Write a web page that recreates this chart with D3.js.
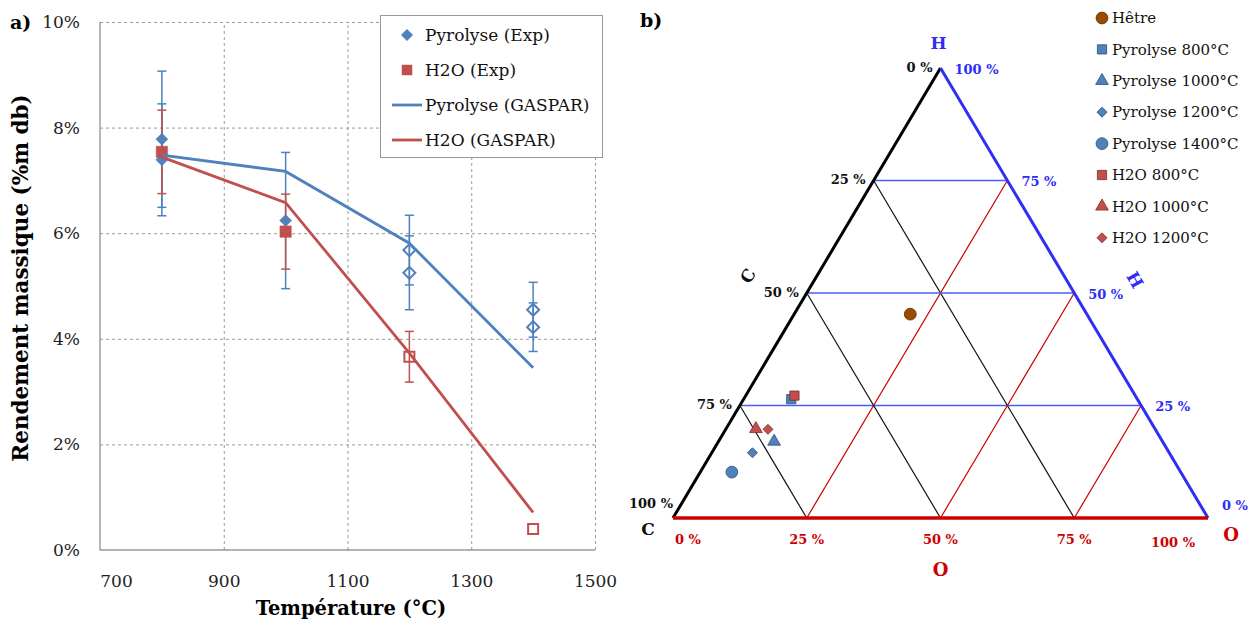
<!DOCTYPE html>
<html><head><meta charset="utf-8">
<script src="https://cdn.jsdelivr.net/npm/d3@7"></script>
<style>body{margin:0;background:#fff} text{font-family:"DejaVu Serif",serif}</style>
</head><body><svg id="c" width="1250" height="624"></svg>
<script>
// ---------- data: panel a ----------
const xTicks = [700, 900, 1100, 1300, 1500];
const yTicks = [0, 2, 4, 6, 8, 10];
const pyroExpT = [800, 800, 1000, 1200, 1200, 1400, 1400];
const pyroExpV = [7.78, 7.39, 6.24, 5.68, 5.25, 4.55, 4.22];
const pyroExpErr = [1.29, 1.06, 1.29, 0.66, 0.70, 0.52, 0.46];
const pyroExpOpen = [false, false, false, true, true, true, true];
const h2oExpT = [800, 1000, 1200, 1400];
const h2oExpV = [7.54, 6.03, 3.66, 0.40];
const h2oExpErr = [0.79, 0.71, 0.48, 0];
const h2oExpOpen = [false, false, true, true];
const gasparT = [800, 1000, 1200, 1400];
const pyroGaspar = [7.48, 7.17, 5.81, 3.45];
const h2oGaspar = [7.44, 6.58, 3.73, 0.71];
const legendA = ["Pyrolyse (Exp)", "H2O (Exp)", "Pyrolyse (GASPAR)", "H2O (GASPAR)"];

// ---------- data: panel b ----------
const ternNames = ["Hêtre", "Pyrolyse 800°C", "Pyrolyse 1000°C", "Pyrolyse 1200°C", "Pyrolyse 1400°C", "H2O 800°C", "H2O 1000°C", "H2O 1200°C"];
const ternC = [0.33, 0.647, 0.726, 0.779, 0.839, 0.637, 0.746, 0.724];
const ternH = [0.453, 0.264, 0.170, 0.145, 0.102, 0.272, 0.198, 0.197];
const ternO = [0.217, 0.089, 0.104, 0.076, 0.059, 0.091, 0.056, 0.079];
const ternShape = ["circle", "square", "triangle", "diamond", "circle", "square", "triangle", "diamond"];
const ternGroup = ["wood", "pyro", "pyro", "pyro", "pyro", "h2o", "h2o", "h2o"];
const ternGrid = [0.25, 0.5, 0.75];
const ternTickLabels = ["0 %", "25 %", "50 %", "75 %", "100 %"];

const BLUE = "#4F81BD", RED = "#C0504D";
const svg = d3.select("#c");

// ================= panel a =================
const x = d3.scaleLinear().domain([700, 1500]).range([100, 595]);
const y = d3.scaleLinear().domain([0, 10]).range([550, 22]);
const gA = svg.append("g");

// gridlines
gA.append("g").attr("transform", "translate(0,550)")
  .call(d3.axisBottom(x).tickValues(xTicks.slice(1)).tickSize(-528).tickFormat(""))
  .call(g => g.select(".domain").remove())
  .call(g => g.selectAll("line").attr("stroke", "#9a9a9a").attr("stroke-dasharray", "3,3"));
gA.append("g").attr("transform", "translate(100,0)")
  .call(d3.axisLeft(y).tickValues(yTicks.slice(1)).tickSize(-495).tickFormat(""))
  .call(g => g.select(".domain").remove())
  .call(g => g.selectAll("line").attr("stroke", "#9a9a9a").attr("stroke-dasharray", "3,3"));

// axes labels
gA.append("g").attr("transform", "translate(100,0)")
  .call(d3.axisLeft(y).tickValues(yTicks).tickFormat(d => d + "%").tickSize(0).tickPadding(20))
  .call(g => g.select(".domain").remove())
  .call(g => g.selectAll("text").attr("font-size", 17).attr("fill", "#222").style("font-family", "DejaVu Serif"));
gA.append("g").attr("transform", "translate(0,550)")
  .call(d3.axisBottom(x).tickValues(xTicks).tickFormat(d => d).tickSize(0).tickPadding(25))
  .call(g => g.select(".domain").remove())
  .call(g => g.selectAll("text").attr("font-size", 17).attr("fill", "#222").style("font-family", "DejaVu Serif")
    .attr("dx", d => d === 700 ? 16 : 0));
// spines
gA.append("line").attr("x1", x(700)).attr("x2", x(700)).attr("y1", y(10)).attr("y2", y(0)).attr("stroke", "#888").attr("stroke-width", 1.2);
gA.append("line").attr("x1", x(700)).attr("x2", x(1500)).attr("y1", y(0)).attr("y2", y(0)).attr("stroke", "#666").attr("stroke-width", 1.2);

// error bars
function errBars(T, V, E, color) {
  T.forEach((t, i) => {
    if (!E[i]) return;
    const cx = x(t), y1 = y(V[i] + E[i]), y2 = y(V[i] - E[i]);
    gA.append("line").attr("x1", cx).attr("x2", cx).attr("y1", y1).attr("y2", y2).attr("stroke", color).attr("stroke-width", 1.5);
    [y1, y2].forEach(yy => gA.append("line").attr("x1", cx - 4.5).attr("x2", cx + 4.5).attr("y1", yy).attr("y2", yy).attr("stroke", color).attr("stroke-width", 1.5));
  });
}
errBars(pyroExpT, pyroExpV, pyroExpErr, BLUE);
errBars(h2oExpT, h2oExpV, h2oExpErr, RED);

// markers
const diamond = d3.symbol().type(d3.symbolSquare).size(72);
const square = d3.symbol().type(d3.symbolSquare).size(130);
pyroExpT.forEach((t, i) => {
  gA.append("path").attr("d", diamond())
    .attr("transform", `translate(${x(t)},${y(pyroExpV[i])}) rotate(45)`)
    .attr("fill", pyroExpOpen[i] ? "none" : BLUE)
    .attr("stroke", BLUE).attr("stroke-width", pyroExpOpen[i] ? 2 : 0.5);
});
h2oExpT.forEach((t, i) => {
  gA.append("path").attr("d", h2oExpOpen[i] ? d3.symbol().type(d3.symbolSquare).size(100)() : square())
    .attr("transform", `translate(${x(t)},${y(h2oExpV[i])})`)
    .attr("fill", h2oExpOpen[i] ? "none" : RED)
    .attr("stroke", RED).attr("stroke-width", h2oExpOpen[i] ? 2 : 0.5);
});

// GASPAR lines
const line = d3.line().x((d, i) => x(gasparT[i])).y(d => y(d));
gA.append("path").attr("d", line(pyroGaspar)).attr("fill", "none").attr("stroke", BLUE).attr("stroke-width", 2.8);
gA.append("path").attr("d", line(h2oGaspar)).attr("fill", "none").attr("stroke", RED).attr("stroke-width", 2.8);

// legend a
const lgA = gA.append("g");
lgA.append("rect").attr("x", 380.5).attr("y", 15.5).attr("width", 222).attr("height", 142).attr("fill", "#fff").attr("stroke", "#999");
legendA.forEach((name, i) => {
  const ly = 35 + i * 35;
  if (i === 0) lgA.append("path").attr("d", diamond()).attr("transform", `translate(407,${ly}) rotate(45)`).attr("fill", BLUE);
  if (i === 1) lgA.append("path").attr("d", d3.symbol().type(d3.symbolSquare).size(110)()).attr("transform", `translate(407,${ly})`).attr("fill", RED);
  if (i >= 2) lgA.append("line").attr("x1", 392).attr("x2", 422).attr("y1", ly).attr("y2", ly).attr("stroke", i === 2 ? BLUE : RED).attr("stroke-width", 2.8);
  lgA.append("text").attr("x", 425).attr("y", ly).attr("dy", "0.35em").attr("font-size", 17).attr("fill", "#111").text(name);
});

// titles a
gA.append("text").attr("x", 10).attr("y", 22).attr("dy", "0.35em").attr("font-size", 19).attr("font-weight", "bold").text("a)");
gA.append("text").attr("transform", "translate(20,278) rotate(-90)").attr("text-anchor", "middle").attr("dy", "0.35em")
  .attr("font-size", 21.5).attr("font-weight", "bold").text("Rendement massique (%m db)");
gA.append("text").attr("x", 351).attr("y", 608).attr("text-anchor", "middle").attr("dy", "0.35em")
  .attr("font-size", 19.5).attr("font-weight", "bold").text("Température (°C)");

// ================= panel b =================
const gB = svg.append("g");
const tx = d3.scaleLinear().domain([0, 1]).range([673, 1208]);
const ty = d3.scaleLinear().domain([0, 1]).range([518, 68]);
const P = (c, h, o) => [tx(o + h / 2), ty(h)];
const AXBLUE = "#2E2EF5", GRIDBLUE = "#4B5CF5", AXRED = "#CC0000";

// grid lines
ternGrid.forEach(v => {
  let a = P(1 - v, v, 0), b = P(0, v, 1 - v);
  gB.append("line").attr("x1", a[0]).attr("y1", a[1]).attr("x2", b[0]).attr("y2", b[1]).attr("stroke", GRIDBLUE).attr("stroke-width", 1.6);
  a = P(v, 1 - v, 0); b = P(v, 0, 1 - v);
  gB.append("line").attr("x1", a[0]).attr("y1", a[1]).attr("x2", b[0]).attr("y2", b[1]).attr("stroke", "#111").attr("stroke-width", 1.2);
  a = P(1 - v, 0, v); b = P(0, 1 - v, v);
  gB.append("line").attr("x1", a[0]).attr("y1", a[1]).attr("x2", b[0]).attr("y2", b[1]).attr("stroke", AXRED).attr("stroke-width", 1.2);
});
// outer sides
const vC = P(1, 0, 0), vH = P(0, 1, 0), vO = P(0, 0, 1);
gB.append("line").attr("x1", vC[0]).attr("y1", vC[1]).attr("x2", vH[0]).attr("y2", vH[1]).attr("stroke", "#000").attr("stroke-width", 3);
gB.append("line").attr("x1", vH[0]).attr("y1", vH[1]).attr("x2", vO[0]).attr("y2", vO[1]).attr("stroke", AXBLUE).attr("stroke-width", 3);
gB.append("line").attr("x1", vC[0]).attr("y1", vC[1]).attr("x2", vO[0]).attr("y2", vO[1]).attr("stroke", AXRED).attr("stroke-width", 3.5);

// tick labels
const vals = [0, 0.25, 0.5, 0.75, 1];
vals.forEach((v, i) => {
  let p = P(v, 1 - v, 0);
  gB.append("text").attr("x", p[0] - (v === 1 ? 0 : 8)).attr("y", p[1] + (v === 1 ? -14 : 0)).attr("dy", "0.3em").attr("text-anchor", "end")
    .attr("font-size", 13).attr("font-weight", "bold").attr("fill", "#111").text(ternTickLabels[i]);
  p = P(0, v, 1 - v);
  gB.append("text").attr("x", p[0] + 14).attr("y", p[1] + (v === 0 ? -12 : 2)).attr("dy", "0.3em").attr("text-anchor", "start")
    .attr("font-size", 13).attr("font-weight", "bold").attr("fill", AXBLUE).text(ternTickLabels[i]);
  p = P(1 - v, 0, v);
  gB.append("text").attr("x", p[0] + (v === 0 ? 15 : v === 1 ? -35 : 0)).attr("y", p[1] + 22 + (v === 1 ? 3 : 0)).attr("dy", "0.3em").attr("text-anchor", "middle")
    .attr("font-size", 13).attr("font-weight", "bold").attr("fill", AXRED).text(ternTickLabels[i]);
});
// axis names
gB.append("text").attr("x", vH[0] - 2).attr("y", vH[1] - 25).attr("dy", "0.35em").attr("text-anchor", "middle").attr("font-size", 17).attr("font-weight", "bold").attr("fill", AXBLUE).text("H");
gB.append("text").attr("x", vC[0] - 25).attr("y", vC[1] + 11).attr("dy", "0.35em").attr("text-anchor", "middle").attr("font-size", 17).attr("font-weight", "bold").attr("fill", "#111").text("C");
gB.append("text").attr("x", vO[0] + 23).attr("y", vO[1] + 17).attr("dy", "0.35em").attr("text-anchor", "middle").attr("font-size", 18).attr("font-weight", "bold").attr("fill", AXRED).text("O");
gB.append("text").attr("x", tx(0.5)).attr("y", 570).attr("dy", "0.35em").attr("text-anchor", "middle").attr("font-size", 18).attr("font-weight", "bold").attr("fill", AXRED).text("O");
gB.append("text").attr("transform", "translate(748,276) rotate(-60)").attr("dy", "0.35em").attr("text-anchor", "middle").attr("font-size", 17).attr("font-weight", "bold").attr("fill", "#111").text("C");
gB.append("text").attr("transform", "translate(1135,280) rotate(60)").attr("dy", "0.35em").attr("text-anchor", "middle").attr("font-size", 17).attr("font-weight", "bold").attr("fill", AXBLUE).text("H");
gB.append("text").attr("x", 640).attr("y", 20).attr("dy", "0.35em").attr("font-size", 19).attr("font-weight", "bold").text("b)");

// points
const fillOf = g => g === "wood" ? "#9C4A00" : g === "pyro" ? BLUE : RED;
const strokeOf = g => g === "wood" ? "#5a2a00" : g === "pyro" ? "#2C4D75" : "#7A2C2A";
function marker(sel, shape, group) {
  let path;
  if (shape === "circle") path = d3.symbol().type(d3.symbolCircle).size(110)();
  if (shape === "square") path = d3.symbol().type(d3.symbolSquare).size(85)();
  if (shape === "triangle") path = d3.symbol().type(d3.symbolTriangle).size(70)();
  if (shape === "diamond") path = d3.symbol().type(d3.symbolSquare).size(50)();
  return sel.append("path").attr("d", path).attr("fill", fillOf(group)).attr("stroke", strokeOf(group)).attr("stroke-width", 0.8);
}
ternNames.forEach((n, i) => {
  const p = P(ternC[i], ternH[i], ternO[i]);
  marker(gB, ternShape[i], ternGroup[i]).attr("transform", `translate(${p[0]},${p[1]})` + (ternShape[i] === "diamond" ? " rotate(45)" : ""));
});
// legend b
ternNames.forEach((n, i) => {
  const ly = 18 + i * 31.4;
  marker(gB, ternShape[i], ternGroup[i]).attr("transform", `translate(1102,${ly})` + (ternShape[i] === "diamond" ? " rotate(45)" : ""));
  gB.append("text").attr("x", 1112).attr("y", ly).attr("dy", "0.35em").attr("font-size", 15).attr("fill", "#111").text(n);
});
</script></body></html>
